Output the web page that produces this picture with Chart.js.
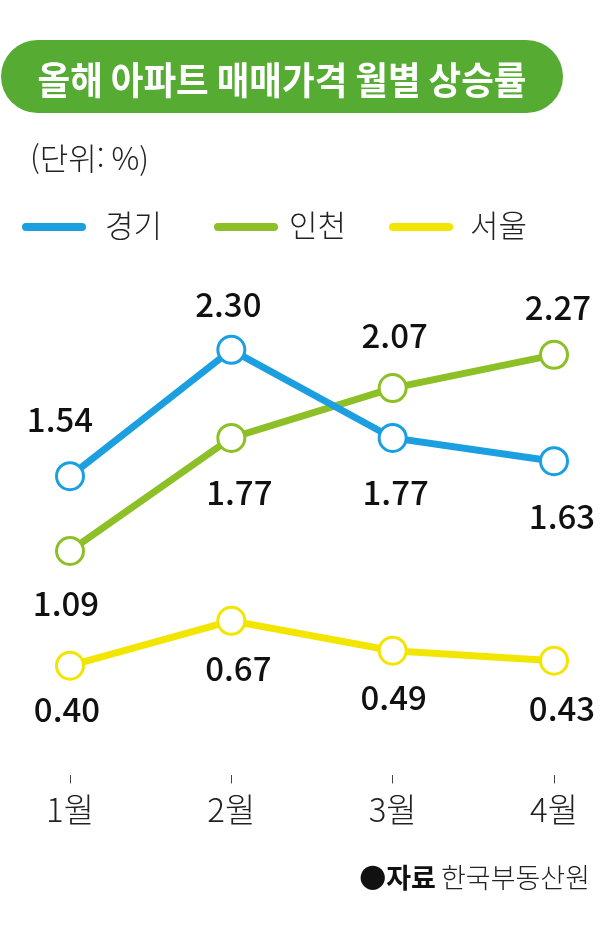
<!DOCTYPE html>
<html lang="ko">
<head>
<meta charset="utf-8">
<script src="https://cdn.jsdelivr.net/npm/chart.js@4.4.1/dist/chart.umd.min.js"></script>
<style>
  html, body { margin: 0; padding: 0; background: #fff; }
</style>
</head>
<body>
<canvas id="chart" width="613" height="930"></canvas>
<script>
const months = ['1월', '2월', '3월', '4월'];
const gyeonggi = [1.54, 2.30, 1.77, 1.63];
const incheon = [1.09, 1.77, 2.07, 2.27];
const seoul = [0.40, 0.67, 0.49, 0.43];
const seriesNames = ['경기', '인천', '서울'];
const titleText = '올해 아파트 매매가격 월별 상승률';
const unitText = '(단위: %)';
const sourceLabel = '●자료';
const sourceName = '한국부동산원';

const FONT = "'Noto Sans CJK KR', 'Noto Sans', sans-serif";
const BLUE = '#1b9fe0';
const GREEN = '#8dc026';
const YELLOW = '#f2e600';

function pill(ctx, x, y, w, h) {
  const r = h / 2;
  ctx.beginPath();
  ctx.moveTo(x + r, y);
  ctx.lineTo(x + w - r, y);
  ctx.arc(x + w - r, y + r, r, -Math.PI / 2, Math.PI / 2);
  ctx.lineTo(x + r, y + h);
  ctx.arc(x + r, y + r, r, Math.PI / 2, Math.PI * 1.5);
  ctx.closePath();
}

// title, unit, legend and source are painted on the same canvas
const decorations = {
  id: 'decorations',
  beforeDraw(chart) {
    const ctx = chart.ctx;
    ctx.save();
    ctx.fillStyle = '#56ab33';
    pill(ctx, 1, 40, 562, 73);
    ctx.fill();

    ctx.save();
    ctx.font = 'bold 38px ' + FONT;
    ctx.fillStyle = '#fff';
    ctx.textAlign = 'center';
    ctx.textBaseline = 'middle';
    const tw = ctx.measureText(titleText).width;
    ctx.translate(282, 80);
    ctx.scale(Math.min(1, 489 / tw), 1);
    ctx.fillText(titleText, 0, 0);
    ctx.restore();

    ctx.fillStyle = '#222';
    ctx.textAlign = 'left';
    ctx.textBaseline = 'middle';
    ctx.font = '300 31px ' + FONT;
    ctx.fillText(unitText, 30, 158);

    // legend
    const lineX = [22, 214, 389];
    const textX = [105, 289, 470];
    chart.data.datasets.forEach((ds, i) => {
      ctx.strokeStyle = ds.borderColor;
      ctx.lineWidth = 8;
      ctx.lineCap = 'round';
      ctx.beginPath();
      ctx.moveTo(lineX[i] + 4, 227);
      ctx.lineTo(lineX[i] + 60, 227);
      ctx.stroke();
      ctx.fillStyle = '#222';
      ctx.font = '300 31px ' + FONT;
      ctx.fillText(ds.label, textX[i], 225);
    });

    // source
    ctx.textAlign = 'right';
    ctx.font = '300 27px ' + FONT;
    ctx.fillText(sourceName, 590, 878);
    const sw = ctx.measureText(sourceName).width;
    ctx.font = 'bold 27px ' + FONT;
    ctx.fillStyle = '#111';
    ctx.fillText(sourceLabel, 590 - sw - 5, 878);
    ctx.restore();
  },
  afterDatasetsDraw(chart) {
    const ctx = chart.ctx;
    ctx.save();
    ctx.font = '500 33px ' + FONT;
    ctx.fillStyle = '#111';
    ctx.textAlign = 'center';
    ctx.textBaseline = 'middle';
    chart.data.datasets.forEach((ds, i) => {
      const meta = chart.getDatasetMeta(i);
      meta.data.forEach((pt, j) => {
        const off = ds.labelOffsets[j];
        ctx.fillText(ds.data[j].toFixed(2), pt.x + off[0], pt.y + off[1]);
      });
    });
    ctx.restore();
  }
};

function series(label, data, color, labelOffsets) {
  return {
    label,
    data,
    borderColor: color,
    backgroundColor: color,
    borderWidth: 7,
    pointRadius: 13.5,
    pointHoverRadius: 13.5,
    pointBorderWidth: 3,
    pointBorderColor: color,
    pointBackgroundColor: '#fff',
    tension: 0,
    clip: false,
    labelOffsets
  };
}

new Chart(document.getElementById('chart'), {
  type: 'line',
  data: {
    labels: months,
    datasets: [
      series(seriesNames[0], gyeonggi, BLUE, [[-10, -57], [-3, -45], [3, 55], [8, 55]]),
      series(seriesNames[1], incheon, GREEN, [[-4, 52], [8, 55], [2, -53], [4, -47]]),
      series(seriesNames[2], seoul, YELLOW, [[-3, 44], [7, 48], [1, 47], [8, 48]])
    ]
  },
  options: {
    responsive: false,
    animation: false,
    layout: { padding: { top: 290, bottom: 95, left: 70, right: 59 } },
    plugins: {
      legend: { display: false },
      title: { display: false },
      tooltip: { enabled: false }
    },
    scales: {
      x: {
        offset: false,
        border: { display: false },
        grid: {
          display: true,
          drawOnChartArea: false,
          drawTicks: true,
          tickLength: 8,
          tickColor: '#444',
          tickWidth: 1
        },
        ticks: {
          padding: 6,
          color: '#222',
          font: { family: FONT, size: 33, weight: 300, lineHeight: 1.2 }
        }
      },
      y: { display: false, min: -0.26, max: 2.66 }
    }
  },
  plugins: [decorations]
});
</script>
</body>
</html>
